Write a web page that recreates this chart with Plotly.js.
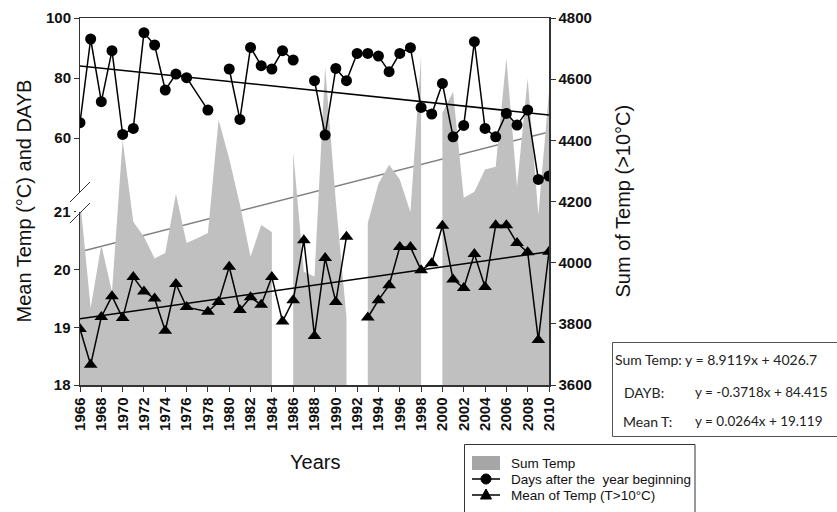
<!DOCTYPE html>
<html>
<head>
<meta charset="utf-8">
<script src="https://cdn.plot.ly/plotly-3.0.1.min.js"></script>
<style>html,body{margin:0;padding:0;background:#fff;}#chart{width:837px;height:512px;}</style>
</head>
<body>
<div id="chart"></div>
<script>
// ---- data ----
var years = [1966,1967,1968,1969,1970,1971,1972,1973,1974,1975,1976,1977,1978,1979,1980,1981,1982,1983,1984,1985,1986,1987,1988,1989,1990,1991,1992,1993,1994,1995,1996,1997,1998,1999,2000,2001,2002,2003,2004,2005,2006,2007,2008,2009,2010];
var sumTemp = [4210,3852,4058,3905,4400,4134,4085,4014,4032,4225,4064,4080,4097,4467,4340,4190,4020,4123,4100,null,4362,3970,3955,4640,4200,3820,null,4130,4258,4320,4272,4165,4676,null,4490,4559,4212,4232,4305,4314,4668,4249,4603,4156,4560];

var daybYears = [1966,1967,1968,1969,1970,1971,1972,1973,1974,1975,1976,1978,1979,1980,1981,1982,1983,1984,1985,1986,1987,1988,1989,1990,1991,1992,1993,1994,1995,1996,1997,1998,1999,2000,2001,2002,2003,2004,2005,2006,2007,2008,2009,2010];
var dayb = [65.1,93.0,72.1,89.1,61.2,63.2,95.1,91.0,76.0,81.3,80.1,69.3,null,83.0,66.2,90.2,84.1,83.0,89.1,86.0,null,79.1,61.0,83.2,79.1,88.2,88.2,87.3,82.1,88.2,90.1,70.2,68.0,78.2,60.4,64.2,92.1,63.2,60.4,68.2,64.3,69.3,46.2,47.3];

var meanYears = [1966,1967,1968,1969,1970,1971,1972,1973,1974,1975,1976,1978,1979,1980,1981,1982,1983,1984,1985,1986,1987,1988,1989,1990,1991,1992,1993,1994,1995,1996,1997,1998,1999,2000,2001,2002,2003,2004,2005,2006,2007,2008,2009,2010];
var meanTemp = [18.97,18.35,19.18,19.54,19.16,19.87,19.62,19.50,18.94,19.75,19.35,19.27,19.44,20.05,19.30,19.52,19.39,19.87,19.10,19.47,20.51,18.85,20.20,19.44,20.57,null,19.17,19.47,19.73,20.39,20.39,19.99,20.11,20.76,19.83,19.68,20.27,19.70,20.77,20.77,20.46,20.30,18.78,20.31];

var trendYears = [1966, 2010];
var trendSum = [4035.6, 4427.7];
var trendDayb = [84.04, 67.68];
var trendMean = [19.15, 20.31];

var xTickVals = [1966,1968,1970,1972,1974,1976,1978,1980,1982,1984,1986,1988,1990,1992,1994,1996,1998,2000,2002,2004,2006,2008,2010];
var meanTickVals = [18,19,20,21];
var daybTickVals = [60,80,100];

var legendLabels = ['Sum Temp', 'Days after the\u00a0 year beginning', 'Mean of Temp (T>10°C)'];
var equations = [
  ["Sum Temp: y = 8.9119x + 4026.7", ""],
  ["DAYB:", "y = -0.3718x + 84.415"],
  ["Mean T:", "y = 0.0264x + 19.119"]
];

// ---- geometry helpers (plot area: x 80..549, y 18..385) ----
var L = 80, R = 549, T = 18, B = 385;
function px(x){ return (x - L) / (R - L); }
function py(y){ return (B - y) / (B - T); }

var FONT = 'Liberation Sans, Arial, sans-serif';

// split the Sum Temp series at missing years so the area shows gaps
var segments = [], cur = {x: [], y: []};
years.forEach(function(yr, i){
  if (sumTemp[i] === null) { if (cur.x.length) segments.push(cur); cur = {x: [], y: []}; }
  else { cur.x.push(yr); cur.y.push(sumTemp[i]); }
});
if (cur.x.length) segments.push(cur);

var traces = [
  {x: trendYears, y: trendSum, yaxis: 'y', mode: 'lines', hoverinfo: 'skip',
   line: {color: '#808080', width: 1.5}}
];
segments.forEach(function(s){
  traces.push({x: s.x, y: s.y, yaxis: 'y', mode: 'none', fill: 'tozeroy', fillcolor: '#c0c0c0',
    name: legendLabels[0]});
});
traces.push(
  {x: daybYears, y: dayb, yaxis: 'y3', mode: 'lines+markers', connectgaps: false, name: legendLabels[1],
   line: {color: '#000', width: 1.5}, marker: {symbol: 'circle', size: 11, color: '#000'}},
  {x: meanYears, y: meanTemp, yaxis: 'y2', mode: 'lines+markers', connectgaps: false, name: legendLabels[2],
   line: {color: '#000', width: 1.5}, marker: {symbol: 'triangle-up', size: 12, color: '#000'}},
  {x: trendYears, y: trendDayb, yaxis: 'y3', mode: 'lines', hoverinfo: 'skip',
   line: {color: '#000', width: 1.5}},
  {x: trendYears, y: trendMean, yaxis: 'y2', mode: 'lines', hoverinfo: 'skip',
   line: {color: '#000', width: 1.5}}
);

var tickFont = {family: FONT, size: 15, color: '#111', weight: 'bold'};

var annotations = [
  {text: 'Mean Temp (°C) and DAYB', xref: 'paper', yref: 'paper', x: px(23), y: py(201.5),
   textangle: -90, showarrow: false, xanchor: 'center', yanchor: 'middle',
   font: {family: FONT, size: 20, color: '#111'}},
  {text: 'Sum of Temp (>10°C)', xref: 'paper', yref: 'paper', x: px(622), y: py(201.5),
   textangle: -90, showarrow: false, xanchor: 'center', yanchor: 'middle',
   font: {family: FONT, size: 20, color: '#111'}},
  {text: 'Years', xref: 'paper', yref: 'paper', x: px(314.5), y: py(462),
   showarrow: false, xanchor: 'center', yanchor: 'middle',
   font: {family: FONT, size: 20, color: '#111'}}
];
var eqY = [359, 392, 421];
var eqX1 = [613, 622, 621];
equations.forEach(function(e, i){
  annotations.push({text: e[0], xref: 'paper', yref: 'paper', x: px(eqX1[i]), y: py(eqY[i]),
    showarrow: false, xanchor: 'left', yanchor: 'middle',
    font: {family: 'Lato, sans-serif', size: 14, color: '#222'}});
  if (e[1]) annotations.push({text: e[1], xref: 'paper', yref: 'paper', x: px(693), y: py(eqY[i]),
    showarrow: false, xanchor: 'left', yanchor: 'middle',
    font: {family: 'Lato, sans-serif', size: 13.5, color: '#222'}});
});

// legend rows (drawn as a boxed key below the plot)
var legY = [463, 479, 495];
legendLabels.forEach(function(t, i){
  annotations.push({text: t, xref: 'paper', yref: 'paper', x: px(509), y: py(legY[i]),
    showarrow: false, xanchor: 'left', yanchor: 'middle',
    font: {family: FONT, size: 13.5, color: '#111'}});
});

var shapes = [
  // axis break on the left axis
  {type: 'rect', xref: 'paper', yref: 'paper', x0: px(76), x1: px(84), y0: py(193), y1: py(212),
   fillcolor: '#fff', line: {width: 0}, layer: 'above'},
  {type: 'line', xref: 'paper', yref: 'paper', x0: px(70), y0: py(202), x1: px(90), y1: py(182),
   line: {color: '#333', width: 1}, layer: 'above'},
  {type: 'line', xref: 'paper', yref: 'paper', x0: px(70), y0: py(223), x1: px(90), y1: py(203),
   line: {color: '#333', width: 1}, layer: 'above'},
  // equation box
  {type: 'rect', xref: 'paper', yref: 'paper', x0: px(612.5), x1: px(880), y0: py(342.5), y1: py(436.5),
   fillcolor: 'rgba(0,0,0,0)', line: {color: '#555', width: 1}, layer: 'above'},
  // legend box and keys
  {type: 'rect', xref: 'paper', yref: 'paper', x0: px(464.5), x1: px(695), y0: py(444.5), y1: py(530),
   fillcolor: 'rgba(0,0,0,0)', line: {color: '#333', width: 1}, layer: 'above'},
  {type: 'rect', xref: 'paper', yref: 'paper', x0: px(472), x1: px(500), y0: py(456), y1: py(470),
   fillcolor: '#a6a6a6', line: {width: 0}, layer: 'above'},
  {type: 'line', xref: 'paper', yref: 'paper', x0: px(472), x1: px(500), y0: py(479), y1: py(479),
   line: {color: '#000', width: 1.5}, layer: 'above'},
  {type: 'circle', xref: 'paper', yref: 'paper', x0: px(481), x1: px(491), y0: py(474), y1: py(484),
   fillcolor: '#000', line: {color: '#000', width: 1}, layer: 'above'},
  {type: 'line', xref: 'paper', yref: 'paper', x0: px(472), x1: px(500), y0: py(495), y1: py(495),
   line: {color: '#000', width: 1.5}, layer: 'above'},
  {type: 'path', xref: 'paper', yref: 'paper',
   path: 'M ' + px(480.5) + ' ' + py(499) + ' L ' + px(491.5) + ' ' + py(499) + ' L ' + px(486) + ' ' + py(489) + ' Z',
   fillcolor: '#000', line: {color: '#000', width: 1}, layer: 'above'}
];

var layout = {
  width: 837, height: 512,
  margin: {l: L, r: 837 - R, t: T, b: 512 - B, pad: 0},
  paper_bgcolor: '#fff', plot_bgcolor: '#fff',
  font: {family: FONT, color: '#111'},
  showlegend: false,
  xaxis: {range: [1966, 2010], tickvals: xTickVals, tickangle: -90, ticks: 'outside', ticklen: 5,
    tickcolor: '#333', showline: true, linecolor: '#333', linewidth: 1.5, mirror: true,
    showgrid: false, zeroline: false, tickfont: tickFont},
  yaxis: {side: 'right', range: [3600, 4800], dtick: 200, ticks: 'outside', ticklen: 5,
    tickcolor: '#333', showline: true, linecolor: '#333', linewidth: 1.5,
    showgrid: false, zeroline: false, tickfont: tickFont},
  yaxis2: {overlaying: 'y', side: 'left', range: [18, 18 + (B - T) / 57.7], tickvals: meanTickVals,
    ticks: 'outside', ticklen: 5, tickcolor: '#333', showline: true, linecolor: '#333', linewidth: 1.5,
    showgrid: false, zeroline: false, tickfont: tickFont},
  yaxis3: {overlaying: 'y', side: 'left', range: [100 - (B - T) / 3, 100], tickvals: daybTickVals,
    ticks: 'outside', ticklen: 5, tickcolor: '#333', showline: false,
    showgrid: false, zeroline: false, tickfont: tickFont},
  annotations: annotations,
  shapes: shapes
};

Plotly.newPlot('chart', traces, layout, {staticPlot: true, displayModeBar: false});
</script>
</body>
</html>
